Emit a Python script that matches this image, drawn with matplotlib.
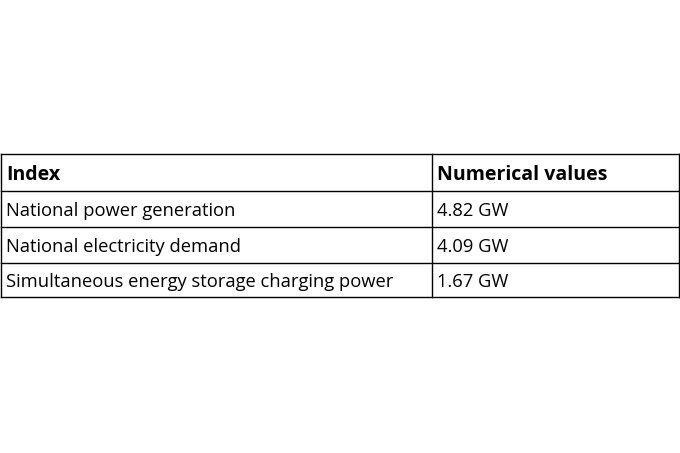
import matplotlib.pyplot as plt

header = ['Index', 'Numerical values']
indexes = ['National power generation', 'National electricity demand',
           'Simultaneous energy storage charging power']
values = ['4.82 GW', '4.09 GW', '1.67 GW']

fig = plt.figure(figsize=(6.8, 4.53), dpi=100)
ax = fig.add_axes([0, 0, 1, 1])
ax.set_xlim(0, 680)
ax.set_ylim(453, 0)
ax.axis('off')

# table layout in pixels
x0, xmid, x1 = 1, 432, 679
rows_y = [154, 191, 227, 263, 297]

for y in rows_y:
    ax.plot([x0, x1], [y, y], color='black', lw=1)
for x in (x0, xmid, x1):
    ax.plot([x, x], [rows_y[0], rows_y[-1]], color='black', lw=1)

fam = ['Open Sans', 'DejaVu Sans']
yh = (rows_y[0] + rows_y[1]) / 2 + 2
ax.text(6, yh, header[0], fontsize=14, weight='bold', va='center', family=fam)
ax.text(437, yh, header[1], fontsize=14, weight='bold', va='center', family=fam)
for i, (name, val) in enumerate(zip(indexes, values)):
    yc = (rows_y[i + 1] + rows_y[i + 2]) / 2 + 2
    ax.text(6, yc, name, fontsize=13.2, va='center', family=fam)
    ax.text(437, yc, val, fontsize=13.2, va='center', family=fam)

fig.savefig('out.png', dpi=100, facecolor='white')
